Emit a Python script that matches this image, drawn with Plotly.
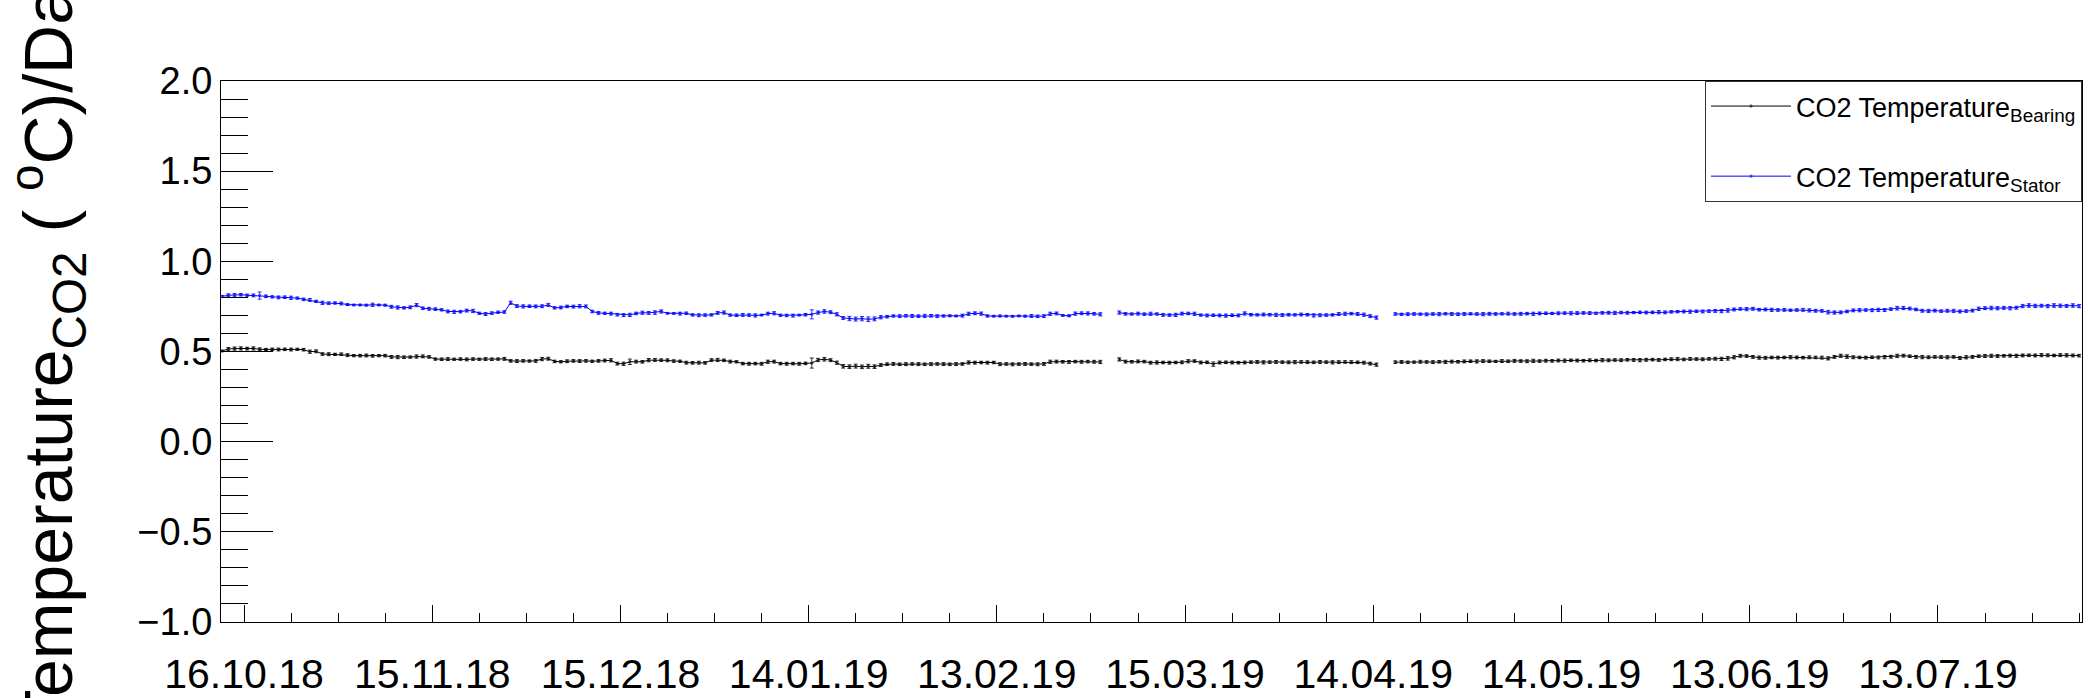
import pandas as pd
import plotly.graph_objects as go

# Daily CO2 temperature drift values (degC/day), one point per day at noon,
# split into three continuous runs separated by missing days.
segment_starts = ["2018-10-12 12:00", "2019-03-04 12:00", "2019-04-17 12:00"]

tick_labels = ["16.10.18", "15.11.18", "15.12.18", "14.01.19", "13.02.19",
               "15.03.19", "14.04.19", "14.05.19", "13.06.19", "13.07.19"]

bearing_seg1 = [
    0.503, 0.514, 0.516, 0.517, 0.516, 0.517,
    0.512, 0.511, 0.512, 0.511, 0.512, 0.511, 0.512, 0.510,
    0.499, 0.501,
    0.486, 0.485, 0.484, 0.485,
    0.480,
    0.477, 0.477, 0.478, 0.476, 0.477, 0.477,
    0.470, 0.469, 0.468, 0.469,
    0.472, 0.473, 0.470,
    0.458, 0.457, 0.458, 0.457, 0.458, 0.456, 0.458, 0.457, 0.458, 0.457, 0.458, 0.459,
    0.448, 0.447, 0.448, 0.447, 0.448,
    0.458, 0.460,
    0.445, 0.443, 0.446,
    0.448, 0.447, 0.448, 0.446,
    0.448,
    0.450, 0.451,
    0.433, 0.432,
    0.443,
    0.444, 0.443,
    0.452, 0.453, 0.452, 0.451,
    0.447, 0.446,
    0.438, 0.437, 0.438, 0.437,
    0.452, 0.453, 0.451,
    0.444, 0.443,
    0.433, 0.432, 0.433, 0.432,
    0.443, 0.444,
    0.433, 0.432, 0.433, 0.432,
    0.434,
    0.436,
    0.453, 0.457, 0.452,
    0.438,
    0.418, 0.416, 0.419, 0.415, 0.418, 0.416,
    0.425,
    0.430, 0.431, 0.429, 0.430, 0.431, 0.430, 0.429, 0.430, 0.431, 0.430, 0.429, 0.430, 0.431,
    0.439, 0.438, 0.439, 0.438, 0.439,
    0.430, 0.431, 0.429, 0.430, 0.431, 0.430, 0.429, 0.431,
    0.443, 0.444, 0.443, 0.442, 0.444, 0.443, 0.444, 0.443, 0.442,
]
bearing_seg2 = [
    0.456,
    0.444, 0.443, 0.445, 0.444,
    0.438, 0.439,
    0.439, 0.438, 0.439, 0.440,
    0.446, 0.447,
    0.439, 0.440,
    0.430,
    0.439, 0.440, 0.439, 0.438, 0.439,
    0.441, 0.442, 0.440, 0.441, 0.442, 0.441, 0.440, 0.441, 0.442,
    0.441, 0.440, 0.442, 0.441, 0.440, 0.441, 0.442, 0.441, 0.440,
    0.438, 0.433, 0.427,
]
bearing_seg3 = [
    0.441, 0.442, 0.440, 0.441, 0.443, 0.442, 0.441, 0.443, 0.442, 0.444, 0.443,
    0.445, 0.446, 0.445, 0.447, 0.446, 0.445, 0.447, 0.446, 0.448, 0.447, 0.446, 0.448,
    0.447, 0.449, 0.448, 0.450, 0.449, 0.451, 0.450, 0.449, 0.451, 0.450,
    0.452, 0.451, 0.453, 0.452, 0.454, 0.453, 0.452, 0.454, 0.455, 0.453, 0.456,
    0.457, 0.458, 0.456, 0.459, 0.458, 0.457, 0.459, 0.460, 0.459,
    0.462, 0.468, 0.476, 0.475, 0.470, 0.466, 0.465, 0.467,
    0.466, 0.467, 0.468, 0.467, 0.466, 0.468, 0.467, 0.466,
    0.462, 0.470, 0.476, 0.472,
    0.468, 0.467, 0.466, 0.468, 0.467, 0.469, 0.471,
    0.476, 0.477, 0.474, 0.470,
    0.469, 0.468, 0.470, 0.469, 0.468, 0.470, 0.464, 0.468, 0.470,
    0.474, 0.475, 0.476, 0.475, 0.476, 0.477, 0.476,
    0.478, 0.479, 0.478, 0.480, 0.479, 0.478, 0.480, 0.479, 0.478, 0.477,
]

stator_seg1 = [
    0.805, 0.812, 0.813, 0.815, 0.812, 0.811,
    0.810,
    0.806, 0.803, 0.800, 0.801, 0.798, 0.796,
    0.789, 0.786,
    0.778, 0.770, 0.768, 0.769, 0.766,
    0.760, 0.758, 0.758, 0.757, 0.759, 0.758, 0.757,
    0.748, 0.744, 0.742, 0.745,
    0.757,
    0.740, 0.737, 0.735, 0.731,
    0.722, 0.720, 0.721,
    0.727, 0.725,
    0.712, 0.708, 0.713,
    0.718, 0.719,
    0.770,
    0.752, 0.750, 0.751, 0.750, 0.751,
    0.758,
    0.742, 0.744,
    0.750, 0.749, 0.751, 0.750,
    0.722, 0.714,
    0.712, 0.710, 0.704,
    0.702, 0.703, 0.711,
    0.715, 0.714, 0.716,
    0.722,
    0.712, 0.711,
    0.710, 0.712,
    0.703, 0.701, 0.702, 0.703,
    0.714, 0.716,
    0.702, 0.701, 0.703, 0.702, 0.700, 0.702,
    0.710, 0.712,
    0.701, 0.700, 0.699, 0.702,
    0.704,
    0.706,
    0.716, 0.722, 0.718,
    0.706,
    0.686, 0.683, 0.680,
    0.682, 0.679, 0.681,
    0.690, 0.693,
    0.697, 0.696, 0.698, 0.697, 0.696, 0.697, 0.698, 0.696, 0.697, 0.698, 0.697, 0.699,
    0.709, 0.712, 0.710,
    0.697, 0.696, 0.697,
    0.696, 0.695, 0.697, 0.696, 0.697, 0.695, 0.696,
    0.709, 0.711,
    0.700, 0.698,
    0.710, 0.712, 0.711, 0.709, 0.706,
]
stator_seg2 = [
    0.716,
    0.709, 0.708, 0.710, 0.707, 0.709, 0.708,
    0.703, 0.702, 0.703,
    0.710, 0.711, 0.709,
    0.702, 0.700, 0.701, 0.700, 0.699, 0.701, 0.700,
    0.711,
    0.704, 0.703, 0.705, 0.704, 0.703, 0.702, 0.704, 0.703, 0.705, 0.704,
    0.700, 0.701, 0.702, 0.703, 0.708, 0.709, 0.710, 0.708,
    0.704, 0.696, 0.688,
]
stator_seg3 = [
    0.708, 0.706, 0.707, 0.708, 0.707, 0.706, 0.708, 0.707, 0.709, 0.708, 0.707,
    0.708, 0.709, 0.708, 0.707, 0.709, 0.708, 0.709, 0.710, 0.708, 0.709, 0.710, 0.709,
    0.711, 0.712, 0.711, 0.712, 0.713, 0.712, 0.713, 0.714, 0.713, 0.712,
    0.714, 0.715, 0.714, 0.716, 0.715, 0.716, 0.717, 0.716, 0.717, 0.718, 0.717,
    0.720, 0.721, 0.722, 0.721, 0.723, 0.722, 0.724, 0.725, 0.724,
    0.728, 0.733, 0.736, 0.735, 0.737, 0.732, 0.733, 0.731,
    0.730, 0.731, 0.729, 0.730, 0.731, 0.728, 0.726, 0.725,
    0.718, 0.716, 0.717, 0.722,
    0.728, 0.729, 0.730, 0.729, 0.731, 0.730, 0.735,
    0.740, 0.741, 0.738, 0.733,
    0.726, 0.725, 0.727, 0.724, 0.726, 0.725, 0.722, 0.724, 0.727,
    0.737, 0.740, 0.741, 0.740, 0.742, 0.740, 0.743,
    0.752, 0.755, 0.753, 0.754, 0.752, 0.755, 0.754, 0.753, 0.755, 0.752,
]

# Statistical uncertainties, in units of 0.001 degC/day
bearing_err1 = [
    4, 8, 9, 9, 8, 9, 8, 6, 7, 8,
    7, 8, 6, 7, 9, 8, 7, 8, 6, 7,
    8, 6, 7, 8, 7, 6, 7, 8, 9, 7,
    6, 9, 8, 7, 6, 7, 8, 6, 7, 8,
    7, 6, 8, 7, 6, 8, 7, 8, 7, 6,
    8, 9, 8, 7, 6, 8, 7, 8, 7, 6,
    7, 8, 9, 8, 9, 15, 8, 7, 9, 8,
    7, 8, 7, 6, 8, 7, 8, 7, 8, 9,
    7, 8, 6, 7, 8, 7, 8, 9, 8, 7,
    8, 7, 8, 7, 28, 9, 10, 8, 9, 10,
    10, 11, 10, 11, 10, 8, 7, 8, 7, 8,
    7, 8, 7, 8, 7, 8, 7, 8, 7, 9,
    8, 7, 8, 7, 8, 7, 8, 7, 8, 7,
    8, 8, 9, 8, 7, 8, 7, 8, 7, 8,
    9,
]
bearing_err2 = [
    9, 8, 7, 8, 7, 8, 9, 7, 8, 7,
    8, 9, 7, 8, 7, 12, 8, 7, 8, 7,
    8, 7, 8, 9, 7, 8, 7, 8, 9, 7,
    8, 7, 8, 7, 9, 8, 7, 8, 7, 8,
    8, 9,
]
bearing_err3 = [
    7, 8, 7, 6, 8, 7, 8, 7, 9, 8,
    7, 8, 7, 9, 8, 7, 6, 8, 7, 8,
    7, 8, 9, 7, 8, 7, 8, 9, 7, 8,
    7, 8, 7, 9, 8, 7, 8, 7, 8, 9,
    8, 7, 8, 7, 8, 9, 7, 8, 7, 8,
    7, 8, 9, 10, 9, 8, 7, 8, 9, 8,
    7, 8, 7, 9, 8, 7, 8, 7, 8, 9,
    8, 9, 10, 8, 7, 8, 7, 8, 9, 8,
    9, 8, 7, 8, 9, 8, 7, 8, 9, 7,
    8, 9, 8, 7, 8, 9, 8, 7, 8, 9,
    8, 7, 8, 9, 8, 7, 8, 9, 8, 7,
]
stator_err1 = [
    6, 8, 9, 7, 6, 8, 20, 7, 6, 8,
    7, 9, 6, 7, 8, 6, 9, 7, 6, 8,
    5, 4, 4, 5, 9, 4, 5, 8, 9, 6,
    8, 9, 7, 8, 7, 6, 8, 9, 7, 8,
    9, 6, 8, 7, 6, 7, 9, 8, 9, 7,
    8, 8, 9, 6, 8, 7, 8, 9, 8, 7,
    8, 6, 8, 7, 8, 9, 7, 9, 8, 10,
    9, 4, 4, 8, 7, 6, 8, 7, 6, 8,
    9, 6, 7, 8, 7, 9, 4, 8, 9, 6,
    7, 8, 4, 7, 25, 9, 10, 8, 9, 8,
    12, 11, 12, 13, 11, 9, 7, 6, 8, 7,
    8, 7, 9, 7, 8, 6, 5, 4, 8, 9,
    8, 9, 6, 4, 5, 4, 4, 4, 5, 8,
    7, 8, 9, 8, 4, 5, 9, 8, 9, 7,
    9,
]
stator_err2 = [
    9, 7, 6, 8, 7, 9, 6, 8, 7, 9,
    8, 7, 9, 6, 8, 7, 8, 9, 7, 8,
    9, 7, 6, 8, 7, 9, 8, 7, 6, 8,
    7, 9, 8, 7, 6, 8, 9, 7, 8, 9,
    8, 9,
]
stator_err3 = [
    7, 6, 8, 7, 6, 8, 7, 9, 6, 8,
    7, 8, 6, 7, 9, 8, 7, 6, 8, 7,
    8, 7, 9, 8, 7, 6, 8, 7, 9, 8,
    7, 8, 6, 7, 8, 9, 7, 8, 6, 7,
    8, 7, 9, 8, 7, 6, 8, 9, 7, 8,
    7, 8, 9, 10, 8, 7, 9, 8, 7, 8,
    9, 7, 8, 6, 7, 8, 9, 8, 7, 10,
    9, 8, 7, 8, 9, 7, 8, 9, 8, 7,
    10, 9, 8, 7, 8, 9, 8, 7, 8, 9,
    8, 7, 8, 9, 8, 10, 9, 8, 9, 8,
    9, 10, 9, 8, 9, 10, 9, 8, 10, 9,
]

FONT = "Liberation Sans, Arial, Helvetica, sans-serif"


def build(segments, errors):
    """Join the daily runs into one trace, with a break between runs."""
    xs, ys, es = [], [], []
    for start, vals, errs in zip(segment_starts, segments, errors):
        if xs:
            xs.append(None)
            ys.append(None)
            es.append(None)
        xs.extend(pd.date_range(start, periods=len(vals), freq="D"))
        ys.extend(vals)
        es.extend(e / 1000 for e in errs)
    return xs, ys, es


series = [
    ("CO2 Temperature<sub>Bearing</sub>", "#000000",
     [bearing_seg1, bearing_seg2, bearing_seg3],
     [bearing_err1, bearing_err2, bearing_err3]),
    ("CO2 Temperature<sub>Stator</sub>", "#0000ff",
     [stator_seg1, stator_seg2, stator_seg3],
     [stator_err1, stator_err2, stator_err3]),
]

fig = go.Figure()
for k, (name, color, segs, errs) in enumerate(series):
    x, y, e = build(segs, errs)
    fig.add_trace(go.Scatter(
        x=x, y=y, name=name, mode="lines+markers",
        connectgaps=False, legendgroup=f"g{k}",
        line=dict(color=color, width=1),
        marker=dict(color=color, size=2, symbol="square-open",
                    line=dict(color=color, width=0.6)),
        error_y=dict(type="data", array=e, visible=True, color=color,
                     thickness=0.8, width=2),
    ))

tick_dates = pd.to_datetime(tick_labels, format="%d.%m.%y")
DAY_MS = 86400000

fig.update_layout(
    width=2088, height=698,
    margin=dict(l=221, r=6, t=81, b=76, autoexpand=False),
    paper_bgcolor="white", plot_bgcolor="white",
    font=dict(family=FONT, color="black"),
    showlegend=True,
    legend=dict(
        x=1, y=1, xanchor="right", yanchor="top",
        bgcolor="white", bordercolor="#333333", borderwidth=1,
        font=dict(family=FONT, size=27, color="black"),
        traceorder="grouped", tracegroupgap=32,
        itemwidth=80,
    ),
)

fig.update_xaxes(
    type="date",
    range=["2018-10-12 08:00", "2019-08-04 23:00"],
    tickmode="array",
    tickvals=tick_dates,
    ticktext=tick_labels,
    ticks="inside", ticklen=17, tickwidth=1, tickcolor="black",
    minor=dict(ticks="inside", ticklen=9, tickwidth=1, tickcolor="black",
               tick0=tick_dates[0], dtick=7.5 * DAY_MS),
    showline=True, linecolor="black", linewidth=1, mirror=True,
    showgrid=False, zeroline=False, automargin=False,
    tickfont=dict(family=FONT, size=41, color="black"),
    ticklabelstandoff=16,
)

fig.update_yaxes(
    range=[-1, 2],
    tickmode="linear", tick0=-1, dtick=0.5, tickformat=".1f",
    ticks="inside", ticklen=52, tickwidth=1, tickcolor="black",
    minor=dict(ticks="inside", ticklen=27, tickwidth=1, tickcolor="black",
               dtick=0.1),
    showline=True, linecolor="black", linewidth=1, mirror=True,
    showgrid=False, zeroline=False, automargin=False,
    tickfont=dict(family=FONT, size=38, color="black"),
    title=dict(
        text="&nbsp;Temperature<sub>CO2</sub> ( <sup>o</sup>C)/Day",
        font=dict(family=FONT, size=68, color="black"),
        standoff=44,
    ),
)

fig.write_html("out.html")
